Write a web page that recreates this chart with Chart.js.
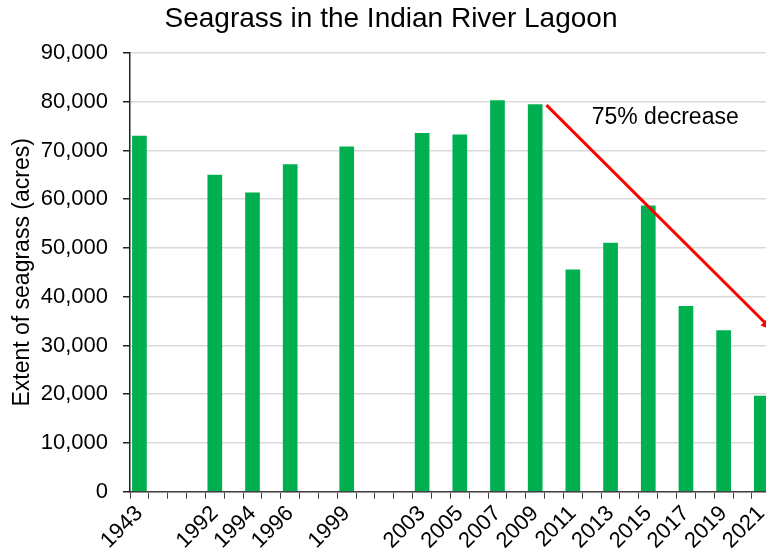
<!DOCTYPE html>
<html>
<head>
<meta charset="utf-8">
<title>Seagrass in the Indian River Lagoon</title>
<script src="https://cdn.jsdelivr.net/npm/chart.js@4/dist/chart.umd.min.js"></script>
<style>
  html, body { margin: 0; padding: 0; background: #fff; overflow: hidden; }
  #wrap { position: relative; width: 782px; height: 558px; }
</style>
</head>
<body>
<div id="wrap"><canvas id="seagrassChart"></canvas></div>
<script>
'use strict'

// one slot per year on the axis (the '' slots are the squeezed gap after 1943)
var slots = ['1943', '', '', '',
  '1992', '1993', '1994', '1995', '1996', '1997', '1998', '1999', '2000',
  '2001', '2002', '2003', '2004', '2005', '2006', '2007', '2008', '2009',
  '2010', '2011', '2012', '2013', '2014', '2015', '2016', '2017', '2018',
  '2019', '2020', '2021'];

var surveyYears = ['1943', '1992', '1994', '1996', '1999', '2003', '2005', '2007',
  '2009', '2011', '2013', '2015', '2017', '2019', '2021'];
var acres = [73000, 65000, 61400, 67200, 70800, 73600, 73300, 80300,
  79500, 45600, 51100, 58700, 38100, 33100, 19700];

var yTicks = [0, 10000, 20000, 30000, 40000, 50000, 60000, 70000, 80000, 90000];

// trend arrow in (slot index, acres)
var arrowFrom = [21.6, 79300];
var arrowTo = [33.6, 33100];
var noteText = '75% decrease';
var notePos = [27.9, 76800];

var FONT = 'Arial, "Liberation Sans", sans-serif';

var barData = slots.map(function (s) {
  let i = surveyYears.indexOf(s);
  return i < 0 ? null : acres[i];
});

var trendArrow = {
  id: 'trendArrow',
  afterDatasetsDraw: function (chart) {
    let ctx = chart.ctx;
    let x = chart.scales.x, y = chart.scales.y;
    let x1 = x.getPixelForValue(arrowFrom[0]), y1 = y.getPixelForValue(arrowFrom[1]);
    let x2 = x.getPixelForValue(arrowTo[0]), y2 = y.getPixelForValue(arrowTo[1]);
    let ang = Math.atan2(y2 - y1, x2 - x1);
    let head = 13;
    ctx.save();
    ctx.strokeStyle = '#ff0000';
    ctx.fillStyle = '#ff0000';
    ctx.lineWidth = 3;
    ctx.beginPath();
    ctx.moveTo(x1, y1);
    ctx.lineTo(x2 - Math.cos(ang) * head * 0.8, y2 - Math.sin(ang) * head * 0.8);
    ctx.stroke();
    ctx.beginPath();
    ctx.moveTo(x2, y2);
    ctx.lineTo(x2 - head * Math.cos(ang - 0.4), y2 - head * Math.sin(ang - 0.4));
    ctx.lineTo(x2 - head * Math.cos(ang + 0.4), y2 - head * Math.sin(ang + 0.4));
    ctx.closePath();
    ctx.fill();

    ctx.fillStyle = '#000';
    ctx.font = '23px ' + FONT;
    ctx.textAlign = 'center';
    ctx.textBaseline = 'middle';
    ctx.fillText(noteText, x.getPixelForValue(notePos[0]), y.getPixelForValue(notePos[1]));
    ctx.restore();
  }
};

const ctx = document.getElementById('seagrassChart').getContext('2d');
const seagrassChart = new Chart(ctx, {
  type: 'bar',
  data: {
    labels: slots,
    datasets: [{
      label: 'Extent of seagrass (acres)',
      data: barData,
      backgroundColor: '#00b050',
      borderWidth: 0,
      barPercentage: 0.78,
      categoryPercentage: 1.0
    }]
  },
  options: {
    responsive: true,
    maintainAspectRatio: false,
    animation: false,
    layout: { padding: { left: 0, right: 0, top: 0, bottom: 2 } },
    plugins: {
      legend: { display: false },
      tooltip: { enabled: false },
      title: {
        display: true,
        text: 'Seagrass in the Indian River Lagoon',
        color: '#000',
        font: { family: FONT, size: 28, weight: 'normal' },
        padding: { top: 2, bottom: 17.4 }
      }
    },
    scales: {
      x: {
        offset: true,
        grid: {
          offset: true,
          drawOnChartArea: false,
          drawTicks: true,
          tickLength: 7,
          tickColor: '#404040'
        },
        border: { color: '#404040', width: 1.5 },
        ticks: {
          autoSkip: false,
          maxRotation: 45,
          minRotation: 45,
          padding: 2,
          color: '#000',
          font: { family: FONT, size: 22 },
          callback: function (value, index) {
            let lab = slots[index];
            return surveyYears.indexOf(lab) >= 0 ? lab : '';
          }
        }
      },
      y: {
        min: 0,
        max: 90000,
        afterBuildTicks: function (scale) {
          scale.ticks = yTicks.map(function (v) { return { value: v }; });
        },
        afterFit: function (scale) {
          scale.width = 130;
        },
        grid: {
          color: '#d9d9d9',
          lineWidth: 1.5,
          drawTicks: true,
          tickLength: 7,
          tickColor: '#222'
        },
        border: { color: '#222', width: 1.5 },
        ticks: {
          padding: 15,
          color: '#000',
          font: { family: FONT, size: 22 },
          callback: function (value) {
            return value.toLocaleString('en-US');
          }
        },
        title: {
          display: true,
          text: 'Extent of seagrass (acres)',
          color: '#000',
          font: { family: FONT, size: 23 },
          padding: { top: 9, bottom: 0 }
        }
      }
    }
  },
  plugins: [trendArrow]
});
</script>
</body>
</html>
